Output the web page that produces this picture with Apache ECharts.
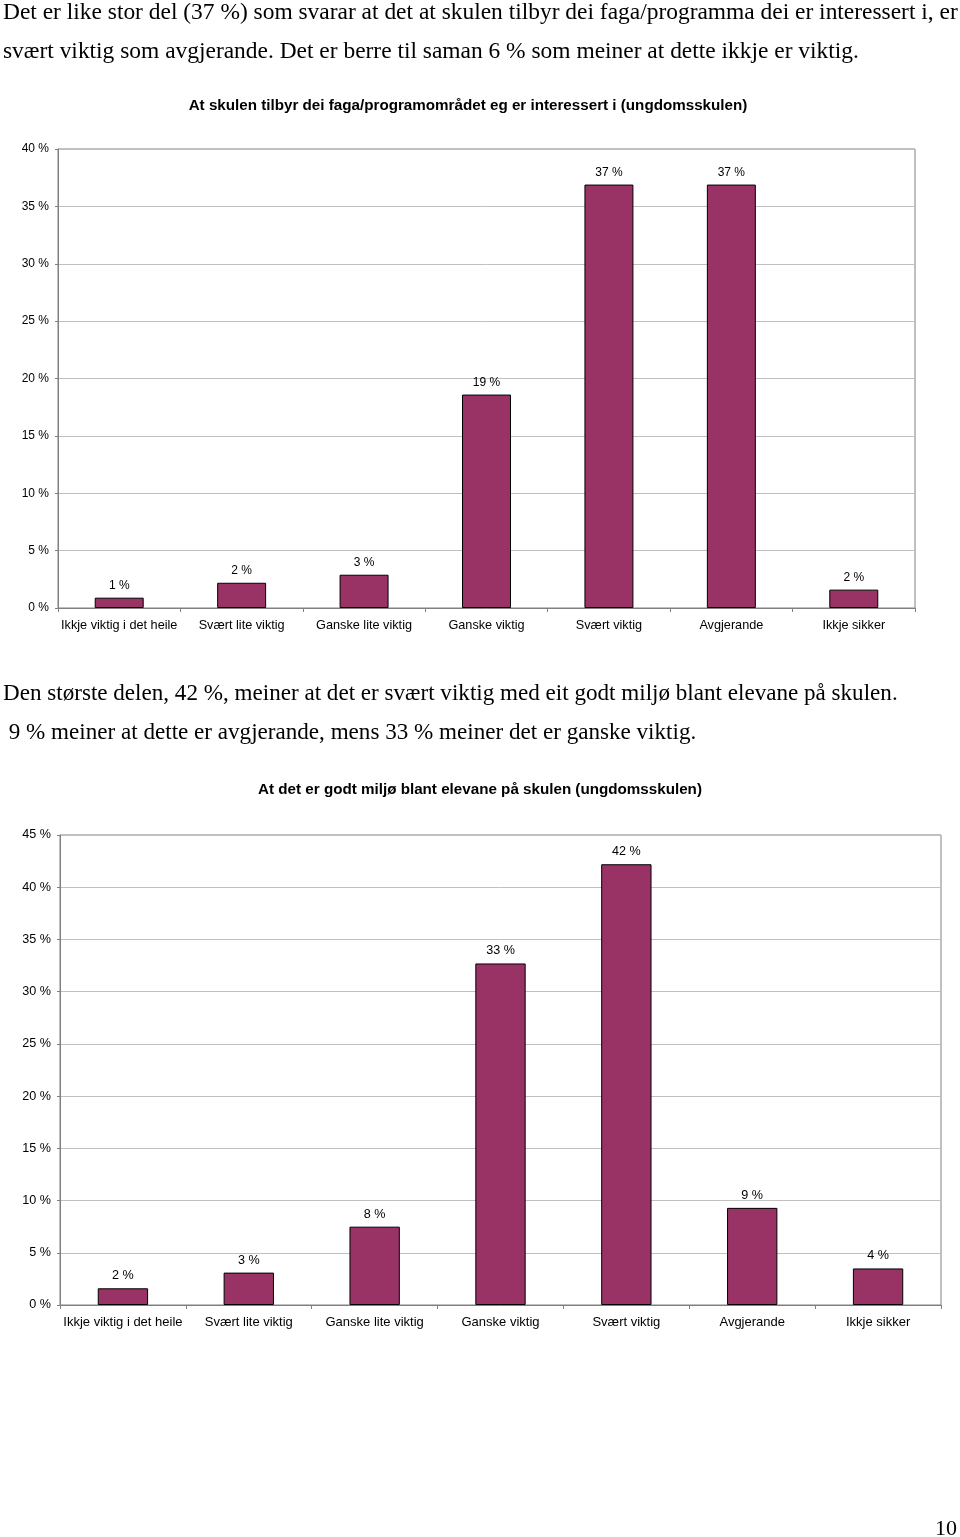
<!DOCTYPE html>
<html>
<head>
<meta charset="utf-8">
<title>Ungdomsskulen</title>
<script src="https://cdn.jsdelivr.net/npm/echarts@6/dist/echarts.min.js"></script>
<style>
  html, body {
    margin: 0;
    padding: 0;
    background: #fff;
  }
  .page {
    position: relative;
    width: 960px;
    height: 1537px;
    overflow: hidden;
  }
  #chart {
    position: absolute;
    left: 0;
    top: 0;
    width: 960px;
    height: 1537px;
  }
  .para {
    position: absolute;
    left: 3px;
    font-family: "Liberation Serif", "DejaVu Serif", serif;
    font-size: 23.3px;
    line-height: 39px;
    color: #000;
    white-space: nowrap;
    z-index: 2;
  }
  .pagenum {
    position: absolute;
    right: 3px;
    top: 1515px;
    font-family: "Liberation Serif", serif;
    font-size: 22px;
    color: #000;
    z-index: 2;
  }
</style>
</head>
<body>
<div class="page">
  <div id="chart"></div>
  <div class="para" style="top:-8px; font-size:23.45px">
    Det er like stor del (37 %) som svarar at det at skulen tilbyr dei faga/programma dei er interessert i, er<br>
    svært viktig som avgjerande. Det er berre til saman 6 % som meiner at dette ikkje er viktig.
  </div>
  <div class="para" style="top:673px; font-size:23.1px">
    Den største delen, 42 %, meiner at det er svært viktig med eit godt miljø blant elevane på skulen.<br>
    &nbsp;9 % meiner at dette er avgjerande, mens 33 % meiner det er ganske viktig.
  </div>
  <div class="pagenum">10</div>
</div>

<script>
// svaralternativ (same for both charts)
const categories = [
  'Ikkje viktig i det heile',
  'Svært lite viktig',
  'Ganske lite viktig',
  'Ganske viktig',
  'Svært viktig',
  'Avgjerande',
  'Ikkje sikker'
]

// chart 1: faga/programområdet
const title1 = 'At skulen tilbyr dei faga/programområdet eg er interessert i (ungdomsskulen)'
const values1 = [0.9, 2.2, 2.9, 18.6, 36.9, 36.9, 1.6]
const yMax1 = 40

// chart 2: godt miljø
const title2 = 'At det er godt miljø blant elevane på skulen (ungdomsskulen)'
const values2 = [1.6, 3.1, 7.5, 32.7, 42.2, 9.3, 3.5]
const yMax2 = 45

const yStep = 5

const barColor = '#993366'
const sansFont = '"Liberation Sans", Arial, sans-serif'

const chart = echarts.init(document.getElementById('chart'))

const makeXAxis = (gridIndex, fontSize) => ({
  type: 'category',
  gridIndex: gridIndex,
  data: categories,
  axisLine: { lineStyle: { color: '#808080', width: 1 } },
  axisTick: { show: true, alignWithLabel: false, length: 4, lineStyle: { color: '#808080' } },
  axisLabel: {
    interval: 0,
    margin: 11,
    color: '#000',
    fontSize: fontSize,
    fontFamily: sansFont
  }
})

const makeYAxis = (gridIndex, max, fontSize) => ({
  type: 'value',
  gridIndex: gridIndex,
  min: 0,
  max: max,
  interval: yStep,
  axisLine: { show: true, lineStyle: { color: '#808080', width: 1 } },
  axisTick: { show: true, length: 3, lineStyle: { color: '#808080' } },
  splitLine: { show: true, lineStyle: { color: '#c0c0c0', width: 1 } },
  axisLabel: {
    margin: 9,
    color: '#000',
    fontSize: fontSize,
    fontFamily: sansFont,
    formatter: (v) => v + ' %'
  }
})

const makeSeries = (index, values, fontSize) => ({
  type: 'bar',
  xAxisIndex: index,
  yAxisIndex: index,
  data: values,
  barWidth: '40%',
  itemStyle: {
    color: barColor,
    borderColor: '#000',
    borderWidth: 1
  },
  label: {
    show: true,
    position: 'top',
    distance: 6,
    color: '#000',
    fontSize: fontSize,
    fontFamily: sansFont,
    formatter: (p) => Math.round(p.value) + ' %'
  },
  emphasis: { disabled: true }
})

const option = {
  animation: false,
  backgroundColor: '#fff',
  title: [
    {
      text: title1,
      left: 463,
      top: 93,
      textAlign: 'center',
      textStyle: { fontSize: 15.2, fontWeight: 'bold', color: '#000', fontFamily: sansFont }
    },
    {
      text: title2,
      left: 475,
      top: 777,
      textAlign: 'center',
      textStyle: { fontSize: 15.2, fontWeight: 'bold', color: '#000', fontFamily: sansFont }
    }
  ],
  grid: [
    {
      left: 58,
      width: 857,
      top: 149,
      height: 459,
      show: true,
      borderColor: '#808080',
      borderWidth: 1,
      backgroundColor: 'transparent'
    },
    {
      left: 60,
      width: 881,
      top: 835,
      height: 470,
      show: true,
      borderColor: '#808080',
      borderWidth: 1,
      backgroundColor: 'transparent'
    }
  ],
  xAxis: [makeXAxis(0, 12.7), makeXAxis(1, 13)],
  yAxis: [makeYAxis(0, yMax1, 12), makeYAxis(1, yMax2, 12.6)],
  series: [makeSeries(0, values1, 12), makeSeries(1, values2, 12.6)]
}

chart.setOption(option)

window.addEventListener('resize', () => {
  chart.resize()
})
</script>
</body>
</html>
